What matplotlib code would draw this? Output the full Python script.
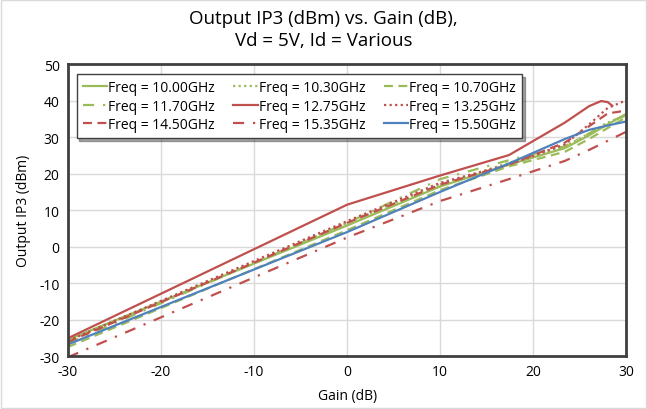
import matplotlib.pyplot as plt
from matplotlib.patches import Rectangle

plt.rcParams['font.family'] = ['Open Sans', 'DejaVu Sans']
plt.rcParams['axes.unicode_minus'] = False

# Datos: ganancia (dB) vs. IP3 de salida (dBm)
gain = [-30, 0, 10, 17.4, 23.4, 26, 28, 30]
gain_1275 = [-30, 0, 10, 17.4, 23.4, 26, 27.3, 28, 28.5]

ip3_1000 = [-25.5, 5.8, 16.5, 22.5, 27.0, 30.5, 33.5, 36.4]
ip3_1030 = [-25.8, 6.5, 17.0, 23.0, 27.5, 31.0, 34.0, 36.0]
ip3_1070 = [-27.5, 4.5, 15.5, 22.0, 26.0, 29.5, 32.5, 35.5]
ip3_1170 = [-26.5, 6.5, 18.5, 23.7, 27.5, 31.0, 34.0, 36.0]
ip3_1275 = [-25.1, 11.5, 19.5, 25.1, 34.0, 38.5, 39.9, 39.6, 38.6]
ip3_1325 = [-25.8, 7.0, 17.5, 22.5, 28.0, 33.5, 38.0, 40.1]
ip3_1450 = [-26.1, 6.5, 17.0, 22.5, 28.5, 33.0, 36.5, 37.3]
ip3_1535 = [-30.3, 2.5, 12.5, 18.5, 23.5, 26.5, 29.0, 31.5]
ip3_1550 = [-26.8, 4.0, 15.0, 22.8, 29.5, 32.0, 33.2, 34.3]

labels = ["Freq = 10.00GHz", "Freq = 10.30GHz", "Freq = 10.70GHz",
          "Freq = 11.70GHz", "Freq = 12.75GHz", "Freq = 13.25GHz",
          "Freq = 14.50GHz", "Freq = 15.35GHz", "Freq = 15.50GHz"]

GREEN = '#9BBB59'
RED = '#C0504D'
BLUE = '#4F81BD'

series = [
    (gain, ip3_1000, GREEN, '-'),
    (gain, ip3_1030, GREEN, (0, (1, 1.5))),
    (gain, ip3_1070, GREEN, (0, (4, 2.5))),
    (gain, ip3_1170, GREEN, (0, (5, 4, 1, 4))),
    (gain_1275, ip3_1275, RED, '-'),
    (gain, ip3_1325, RED, (0, (1, 1.5))),
    (gain, ip3_1450, RED, (0, (4, 2.5))),
    (gain, ip3_1535, RED, (0, (5, 4, 1, 4))),
    (gain, ip3_1550, BLUE, '-'),
]

fig = plt.figure(figsize=(6.47, 4.10), dpi=100)
ax = fig.add_axes([0.105, 0.129, 0.863, 0.712])

handles = []
for (x, y, c, ls), lab in zip(series, labels):
    h, = ax.plot(x, y, color=c, linestyle=ls, linewidth=1.6, label=lab)
    handles.append(h)

ax.set_xlim(-30, 30)
ax.set_ylim(-30, 50)
ax.set_xticks(range(-30, 31, 10))
ax.set_yticks(range(-30, 51, 10))
ax.grid(True, color='#D9D9D9', linewidth=1)
ax.set_axisbelow(True)
ax.tick_params(length=0, labelsize=10, pad=6, colors='#000000')
for s in ax.spines.values():
    s.set_color('#404040')
    s.set_linewidth(2)

ax.set_xlabel("Gain (dB)", fontsize=10, labelpad=6)
ax.set_ylabel("Output IP3 (dBm)", fontsize=10, labelpad=6)
fig.suptitle("Output IP3 (dBm) vs. Gain (dB),\nVd = 5V, Id = Various",
             fontsize=13.5, y=0.975, linespacing=1.3)

# la leyenda de Excel se llena por filas; matplotlib por columnas
order = [0, 3, 6, 1, 4, 7, 2, 5, 8]
leg = ax.legend([handles[i] for i in order], [labels[i] for i in order],
                loc='upper left', ncol=3, fontsize=10, frameon=True,
                fancybox=False, shadow=True, handlelength=1.75,
                handletextpad=0.1, columnspacing=1.3, labelspacing=0.25,
                borderpad=0.45, bbox_to_anchor=(0.003, 0.99))
leg.get_frame().set_edgecolor('#404040')
leg.get_frame().set_linewidth(1)

fig.patches.append(Rectangle((0.002, 0.002), 0.996, 0.996, transform=fig.transFigure,
                             fill=False, edgecolor='#D9D9D9', linewidth=1))

fig.savefig('out.png', dpi=100)
